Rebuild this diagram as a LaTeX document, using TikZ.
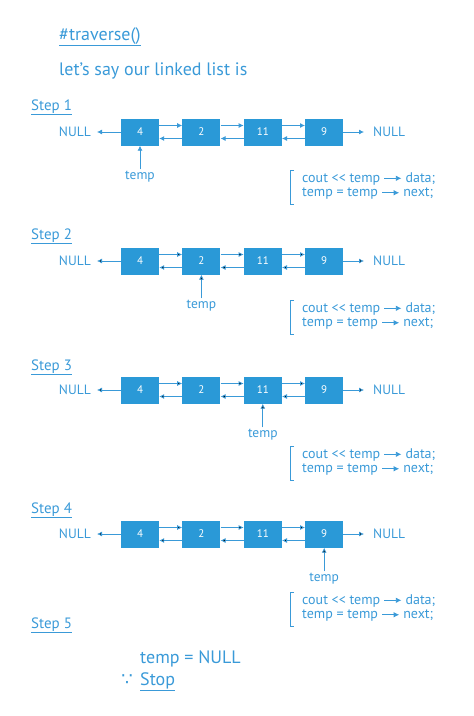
\documentclass[tikz,border=0pt]{standalone}
\usepackage{fontspec}
\setmainfont{PT Sans}
\newfontfamily\symfont{DejaVu Sans}
\definecolor{acc}{HTML}{2A99D7}
\definecolor{ink}{HTML}{3A9AD8}
\usetikzlibrary{arrows.meta,positioning}
\tikzset{
  >={Latex[length=5pt,width=5pt]},
  cell/.style={fill=acc,minimum width=38pt,minimum height=27pt,inner sep=0pt,font=\fontsize{11}{13}\selectfont\color{white}},
  lab/.style={inner sep=0pt,text=ink,font=\fontsize{13.5}{16}\selectfont},
  code/.style={lab,font=\fontsize{14}{16}\selectfont},
  hd/.style={lab,font=\fontsize{15}{18}\selectfont},
  big/.style={lab,font=\fontsize{18}{21}\selectfont},
  arr/.style={->,draw=ink,line width=0.8pt},
  brk/.style={draw=ink,line width=0.6pt},
}
\newcommand\ptr{\tikz[baseline=-0.6ex]\draw[-{Latex[length=5.5pt,width=5.5pt]},draw=ink,line width=0.8pt] (0pt,0pt) -- (17pt,0pt);}

\begin{document}
\begin{tikzpicture}[x=1pt,y=-1pt]
\useasboundingbox (0,0) rectangle (474,716);
% heading
\node[big,anchor=base west] (title) at (59,40) {\underline{\#traverse()}};
\node[big,anchor=base west] (intro) at (59,75) {let’s say our linked list is};
% the four steps
\foreach \s/\yl/\yb/\yc in {1/110/132/179,2/239/261/309,3/370/390/455,4/513/534/601}{
  \node[hd,anchor=base west] (step\s) at (31,\yl) {\underline{Step \s}};
  \foreach \v [count=\i] in {4,2,11,9}
    \node[cell] (n\s-\i) at (140+61.4*\i-61.4,\yb) {\v};
  \foreach \i/\j in {1/2,2/3,3/4}{
    \draw[arr] ([yshift=6.5pt]n\s-\i.east) -- ([yshift=6.5pt]n\s-\j.west);
    \draw[arr] ([yshift=-6.5pt]n\s-\j.west) -- ([yshift=-6.5pt]n\s-\i.east);
  }
  \node[lab,anchor=east] (nl\s) at (91,\yb) {NULL};
  \node[lab,anchor=west] (nr\s) at (373,\yb) {NULL};
  \draw[arr,shorten >=6pt] (n\s-1.west) -- (nl\s.east);
  \draw[arr,shorten >=9pt] (n\s-4.east) -- (nr\s.west);
  % pointer
  \node[lab] (tp\s) at ([yshift=-31pt]n\s-\s.south) {temp};
  \draw[arr,shorten <=1.5pt] (tp\s.north) -- (n\s-\s.south);
  % code
  \node[code,anchor=west] (ca\s) at (302,\yc) {cout {<}{<} temp \ptr{} data;};
  \node[code,anchor=west] (cb\s) at (302,\yc+15) {temp = temp \ptr{} next;};
  \draw[brk] ([xshift=-8pt,yshift=9pt]ca\s.west) -- ([xshift=-12pt,yshift=9pt]ca\s.west)
    -- ([xshift=-12pt,yshift=-10pt]cb\s.west) -- ([xshift=-8pt,yshift=-10pt]cb\s.west);
}
% last step
\node[hd,anchor=base west] (step5) at (31,628) {\underline{Step 5}};
\node[big,anchor=base west] (res) at (140,663) {temp = NULL};
\node[big,anchor=base west] (stop) at (140,685) {\underline{Stop}};
\node[big,anchor=base east] (since) at (133,685) {\symfont ∵};
\end{tikzpicture}
\end{document}
